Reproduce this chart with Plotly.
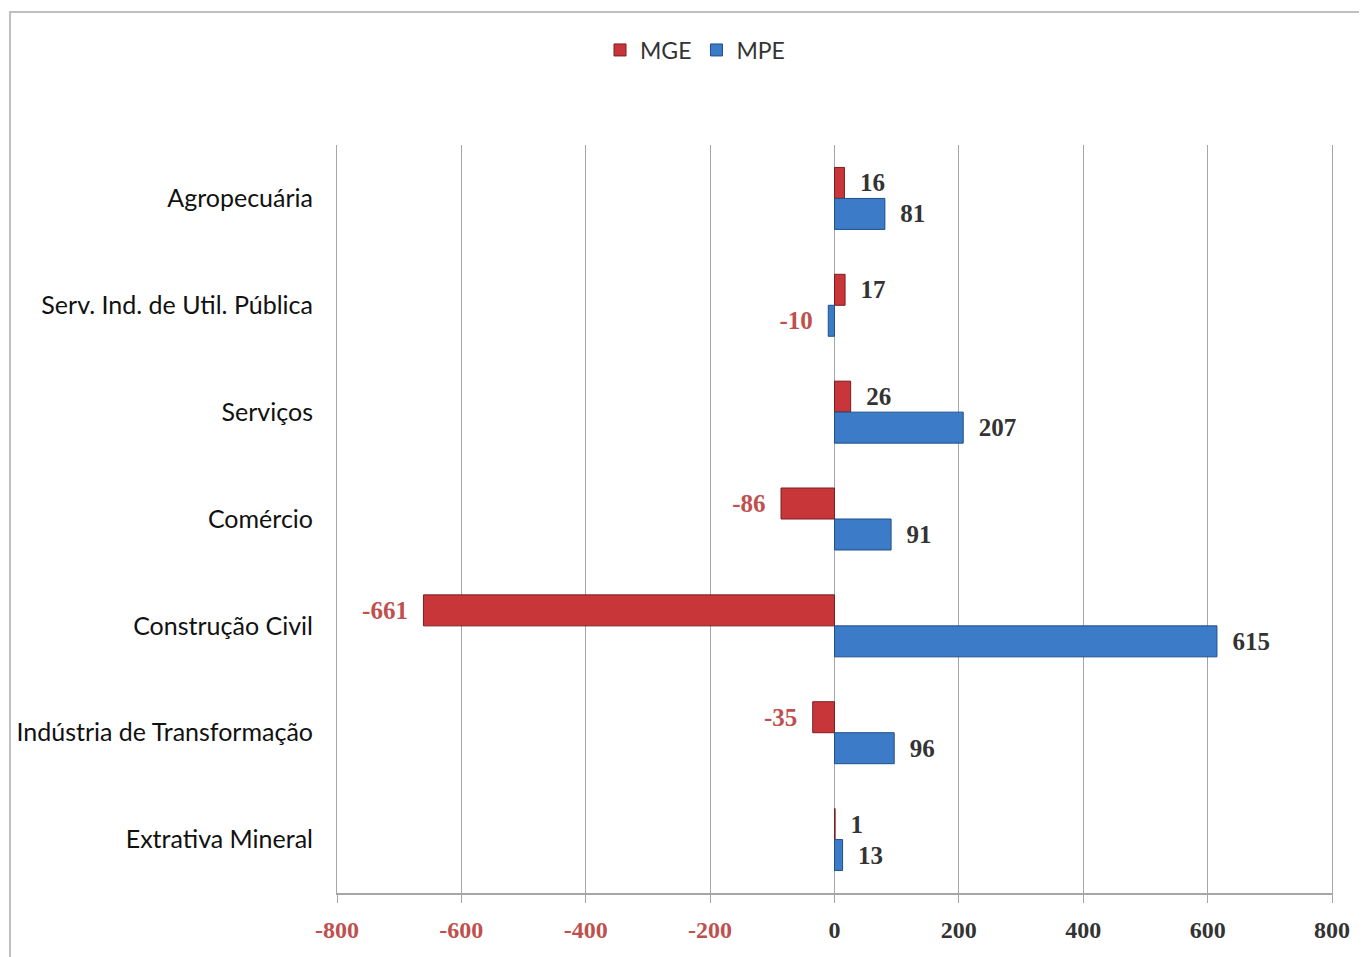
import plotly.graph_objects as go

categories = ["Agropecuária", "Serv. Ind. de Util. Pública", "Serviços", "Comércio",
              "Construção Civil", "Indústria de Transformação", "Extrativa Mineral"]
mge = [16, 17, 26, -86, -661, -35, 1]
mpe = [81, -10, 207, 91, 615, 96, 13]
tick_vals = [-800, -600, -400, -200, 0, 200, 400, 600, 800]

RED = "#C0504D"
DARK = "#333333"

def labels(vals):
    return [(f"  {v}" if v >= 0 else f"{v}  ") for v in vals]

def colors(vals):
    return [DARK if v >= 0 else RED for v in vals]

fig = go.Figure()
fig.add_trace(go.Bar(
    y=categories, x=mge, name="MGE", orientation="h",
    marker=dict(color="#C9363A", line=dict(color="#7A1E20", width=1)),
    text=labels(mge), textposition="outside", cliponaxis=False,
    textfont=dict(family="Liberation Serif", size=25, color=colors(mge), weight="bold"),
))
fig.add_trace(go.Bar(
    y=categories, x=mpe, name="MPE", orientation="h",
    marker=dict(color="#3B7BC8", line=dict(color="#1F4F8A", width=1)),
    text=labels(mpe), textposition="outside", cliponaxis=False,
    textfont=dict(family="Liberation Serif", size=25, color=colors(mpe), weight="bold"),
))

ticktext = [(f"<span style='color:{RED}'>{v}</span>" if v < 0 else str(v)) for v in tick_vals]

W, H = 1359, 949
L, T, R, B = 329, 137, 35, 64
# plot area as seen in the window (px)
PL, PT, PW, PH = 337, 145, 995, 748

fig.update_layout(
    width=W, height=H,
    margin=dict(l=L, r=R, t=T, b=B, autoexpand=False),
    paper_bgcolor="white", plot_bgcolor="white",
    barmode="group", bargap=0.42, bargroupgap=0,
    font=dict(family="Lato", color="#222222"),
    showlegend=True,
    legend=dict(orientation="h", x=(695 - PL) / PW, xanchor="center",
                y=1 + (PT - 50) / PH, yanchor="middle",
                font=dict(family="Lato", size=23, color="#333333"),
                itemwidth=30, traceorder="normal"),
    xaxis=dict(range=[-800, 800], tickvals=tick_vals, ticktext=ticktext,
               automargin=False,
               showgrid=True, gridcolor="#A6A6A6", gridwidth=1,
               zeroline=True, zerolinecolor="#A6A6A6", zerolinewidth=1,
               showline=True, linecolor="#A6A6A6", linewidth=2,
               ticks="outside", ticklen=8, tickcolor="#A6A6A6",
               tickfont=dict(family="Liberation Serif", size=24, color=DARK, weight="bold"),
               ticklabelstandoff=6),
    yaxis=dict(categoryorder="array", categoryarray=categories, autorange="reversed",
               automargin=False,
               showgrid=False, showline=True, mirror=True, linecolor="#A6A6A6", linewidth=1,
               ticks="", tickfont=dict(family="Lato", size=25, color="#111111"),
               ticklabelstandoff=18),
    shapes=[dict(type="rect", xref="paper", yref="paper",
                 x0=(10 - PL) / PW, x1=(1360 - PL) / PW, y0=-0.2, y1=1 + (PT - 12) / PH,
                 line=dict(color="#BFBFBF", width=2), layer="below")],
)

fig.write_html("out.html")
